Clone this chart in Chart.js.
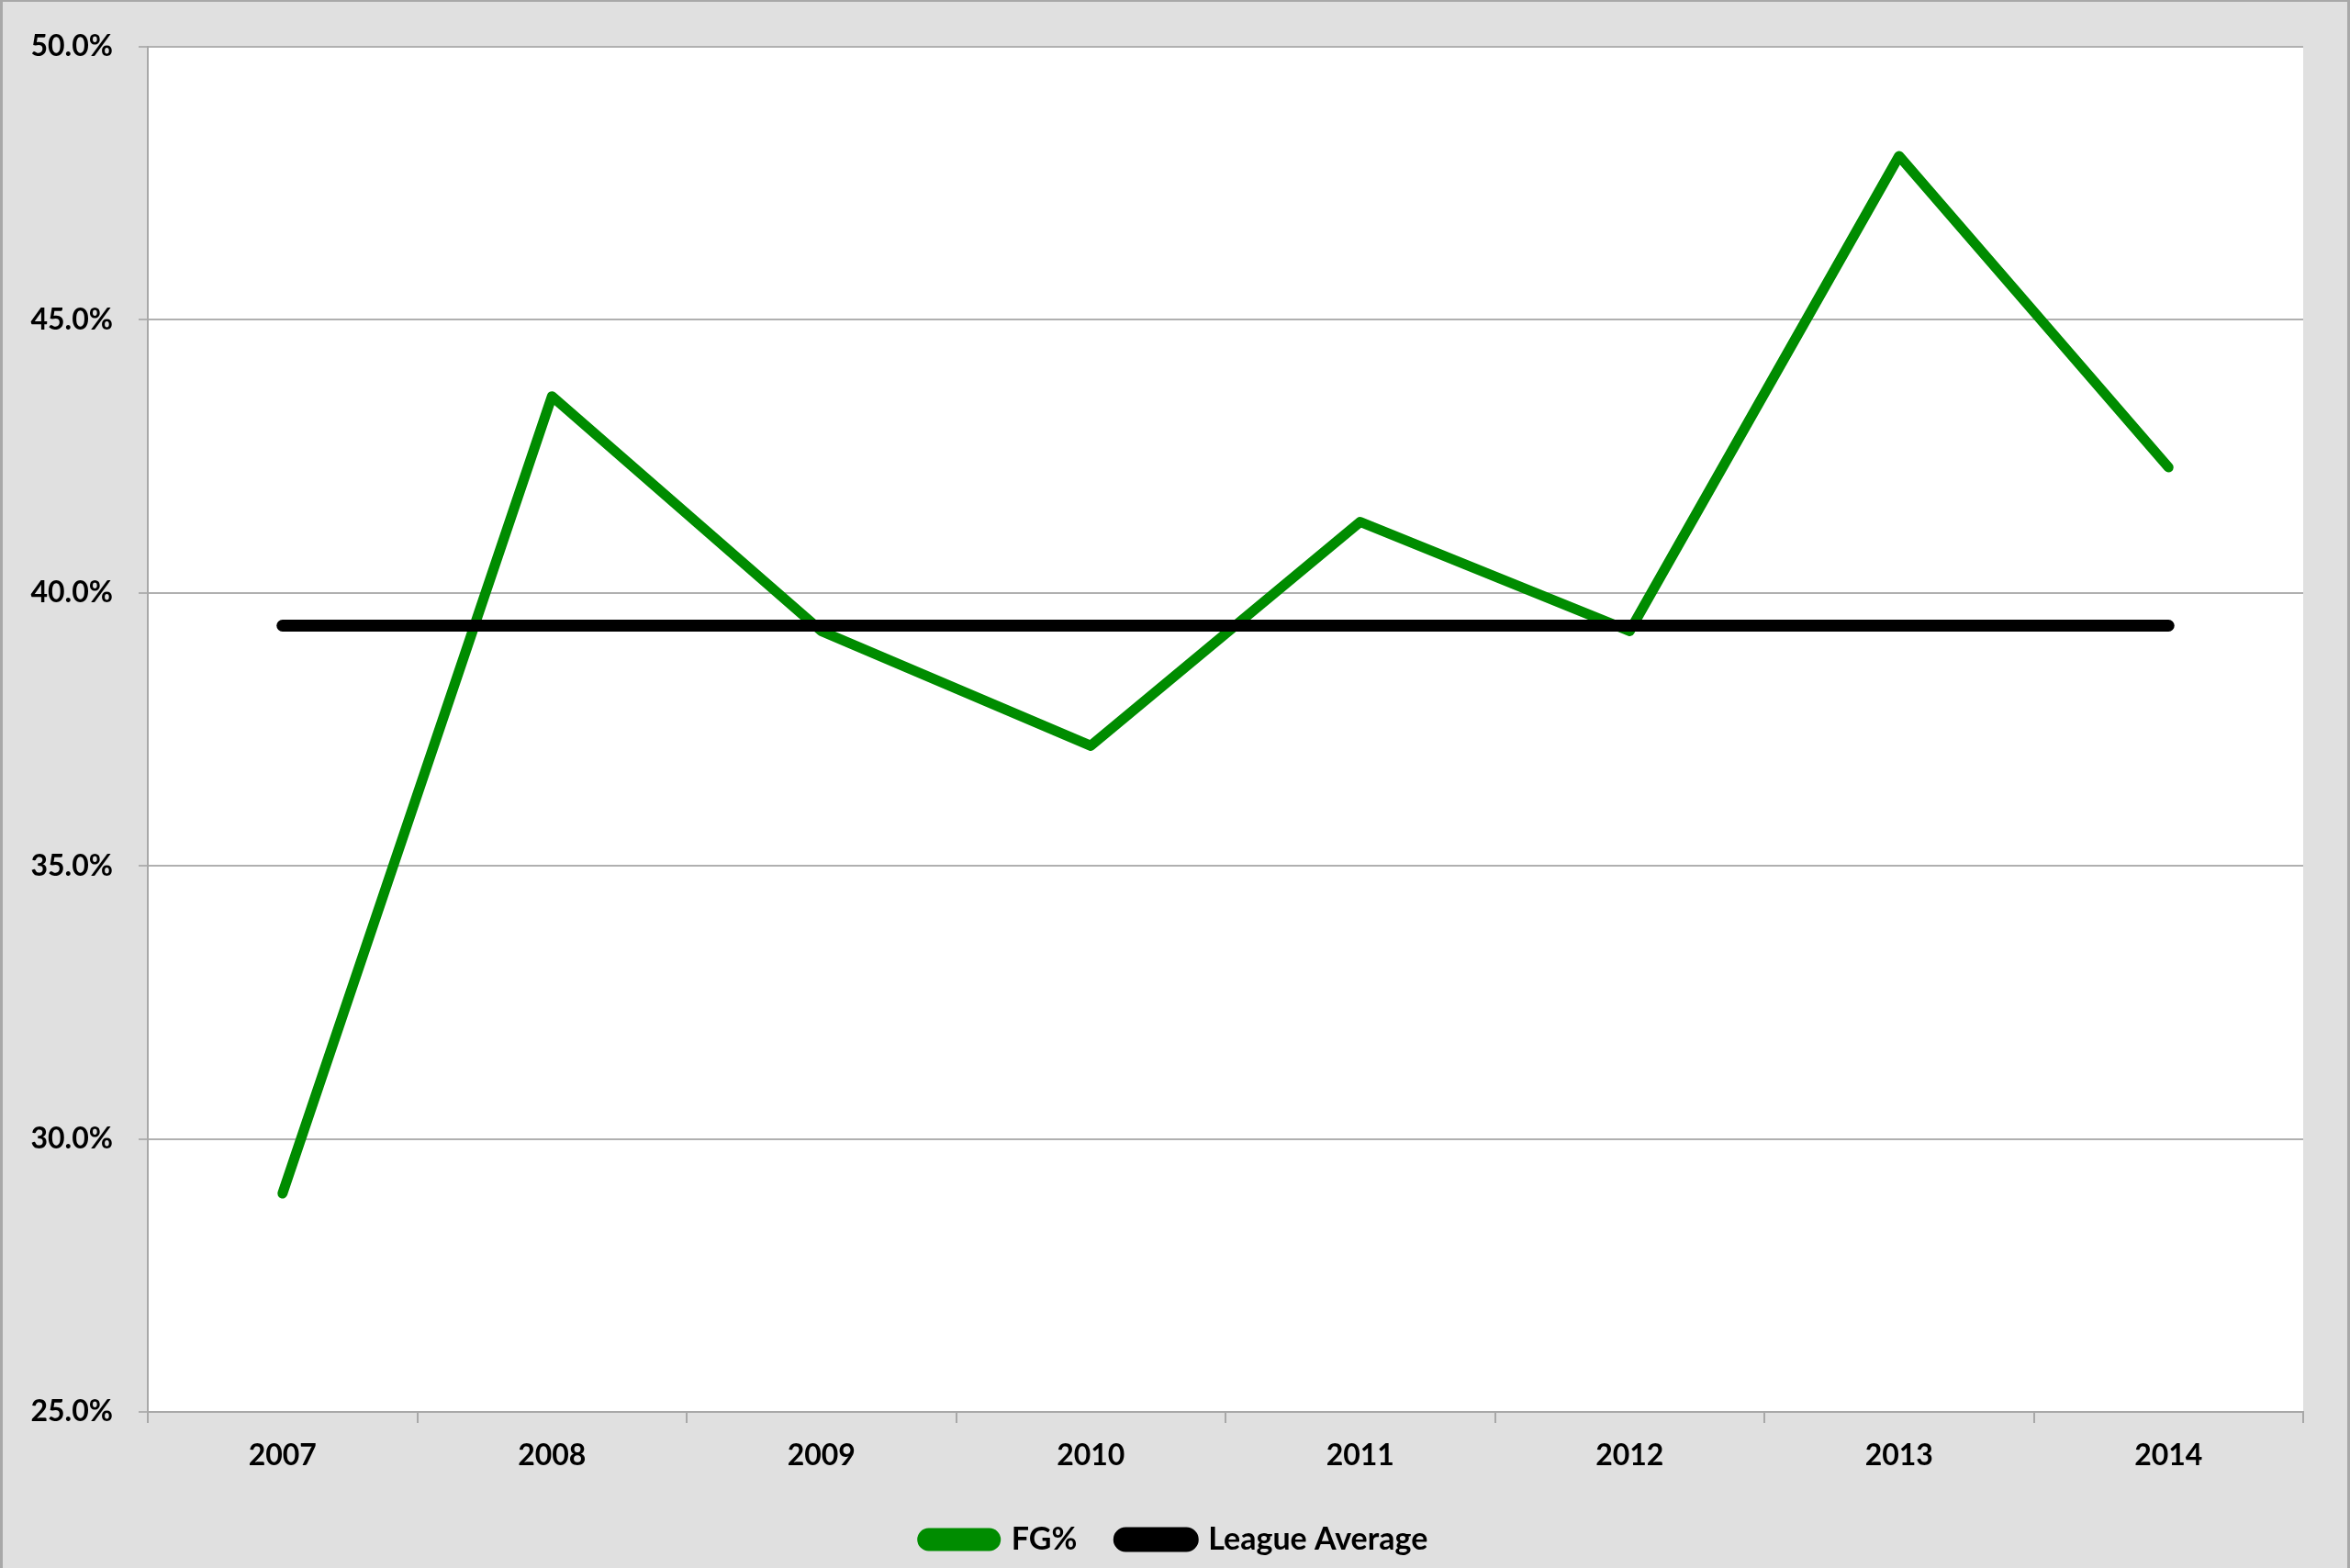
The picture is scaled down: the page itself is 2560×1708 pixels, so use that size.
<!DOCTYPE html>
<html>
<head>
<meta charset="utf-8">
<script src="https://cdn.jsdelivr.net/npm/chart.js@4"></script>
<style>
  html, body { margin: 0; padding: 0; background: #e0e0e0; }
  #wrap {
    position: absolute; left: 0; top: 0;
    width: 2554px; height: 1706px;
    border-left: 3px solid #a8a8a8;
    border-right: 3px solid #a8a8a8;
    border-top: 2px solid #a8a8a8;
    background: #e0e0e0;
  }
</style>
</head>
<body>
<div id="wrap"><canvas id="chart"></canvas></div>
<script>
var years = ['2007', '2008', '2009', '2010', '2011', '2012', '2013', '2014'];
var fgPct = [29.0, 43.6, 39.3, 37.2, 41.3, 39.3, 48.0, 42.3];
var leagueAvg = [39.4, 39.4, 39.4, 39.4, 39.4, 39.4, 39.4, 39.4];
var yTicks = [25, 30, 35, 40, 45, 50];

var plotBg = {
    id: 'plotBg',
    beforeDraw: function (chart) {
        var a = chart.chartArea;
        var ctx = chart.ctx;
        ctx.save();
        ctx.fillStyle = '#ffffff';
        ctx.fillRect(a.left, a.top, a.right - a.left, a.bottom - a.top);
        ctx.restore();
    }
};

Chart.defaults.font.family = 'Lato, "Open Sans", sans-serif';
Chart.defaults.color = '#000000';

function renderChart(name) {
    var ctx = document.getElementById(name).getContext('2d');
    new Chart(ctx, {
        type: 'line',
        data: {
            labels: years,
            datasets: [{
                label: 'FG%',
                data: fgPct,
                borderColor: '#008c00',
                backgroundColor: '#008c00',
                borderWidth: 11,
                borderCapStyle: 'round',
                borderJoinStyle: 'round',
                pointRadius: 0,
                tension: 0,
                order: 2
            },
            {
                label: 'League Average',
                data: leagueAvg,
                borderColor: '#000000',
                backgroundColor: '#000000',
                borderWidth: 13,
                borderCapStyle: 'round',
                pointRadius: 0,
                tension: 0,
                order: 1
            }]
        },
        options: {
            responsive: true,
            maintainAspectRatio: false,
            animation: false,
            layout: { padding: { left: 0, top: 49, right: 0, bottom: 4 } },
            scales: {
                x: {
                    offset: true,
                    grid: { offset: true, drawOnChartArea: false, color: '#a8a8a8', lineWidth: 2, tickLength: 12 },
                    border: { color: '#a8a8a8', width: 2 },
                    ticks: { font: { size: 32, weight: 'bold' }, color: '#000', padding: 16 },
                    afterFit: function (s) { s.height = 76; }
                },
                y: {
                    min: 25,
                    max: 50,
                    afterBuildTicks: function (s) {
                        s.ticks = yTicks.map(function (v) { return { value: v }; });
                    },
                    grid: { color: '#b0b0b0', lineWidth: 2, tickLength: 10 },
                    border: { color: '#a8a8a8', width: 2 },
                    ticks: {
                        font: { size: 32, weight: 'bold' },
                        color: '#000',
                        padding: 28,
                        callback: function (v) { return v.toFixed(1) + '%'; }
                    },
                    afterFit: function (s) { s.width = 158; }
                },
                // empty right margin so the legend stays centred on the whole figure
                yRight: {
                    position: 'right',
                    min: 25,
                    max: 50,
                    grid: { display: false },
                    border: { display: false },
                    ticks: { display: false },
                    afterFit: function (s) { s.width = 48; }
                }
            },
            plugins: {
                legend: {
                    position: 'bottom',
                    labels: {
                        font: { size: 34, weight: 'bold' },
                        color: '#000',
                        boxWidth: 80,
                        boxHeight: 14,
                        useBorderRadius: true,
                        borderRadius: 7,
                        padding: 46,
                        sort: function (a, b) { return a.datasetIndex - b.datasetIndex; }
                    }
                },
                tooltip: { enabled: false }
            }
        },
        plugins: [plotBg]
    });
}

renderChart('chart');
</script>
</body>
</html>
